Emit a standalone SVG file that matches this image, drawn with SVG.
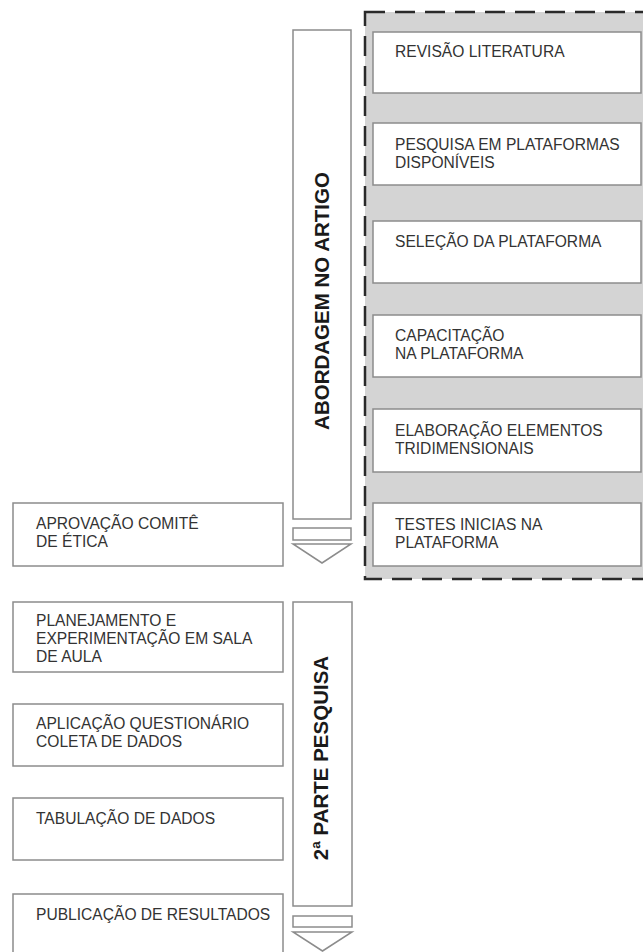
<svg xmlns="http://www.w3.org/2000/svg" width="643" height="952" viewBox="0 0 643 952">
<style>
.box{fill:#fff;stroke:#8c8c8c;stroke-width:1.5}
.t{font-family:"Liberation Sans",Arial,sans-serif;font-size:15.6px;fill:#333}
.v{font-family:"Liberation Sans",Arial,sans-serif;font-size:20.5px;font-weight:bold;fill:#1a1a1a}
.arr{fill:#fff;stroke:#8c8c8c;stroke-width:1.5}
</style>
<rect width="643" height="952" fill="#fff"/>
<g id="group-artigo">
<rect x="365" y="12" width="280" height="567" fill="#d4d4d4" stroke="#2a2a2a" stroke-width="2.5" stroke-dasharray="20 10"/>
</g>
<g id="connectors">
<g id="arrow-abordagem">
<rect class="arr" x="293" y="30" width="58" height="489"/>
<rect class="arr" x="293" y="528" width="58" height="12"/>
<polygon class="arr" points="293,544 351,544 322,563"/>
<text class="v" transform="translate(329,301) rotate(-90)" text-anchor="middle">ABORDAGEM NO ARTIGO</text>
</g>
<g id="arrow-2parte">
<rect class="arr" x="293" y="602" width="59" height="304"/>
<rect class="arr" x="293" y="916" width="59" height="11"/>
<polygon class="arr" points="293,932 352,932 322.5,951"/>
<text class="v" transform="translate(328,758) rotate(-90)" text-anchor="middle">2ª PARTE PESQUISA</text>
</g>
</g>
<g id="n-revisao"><rect class="box" x="373" y="32" width="268" height="61"/><text class="t" x="395" y="57">REVISÃO LITERATURA</text></g>
<g id="n-pesquisa"><rect class="box" x="373" y="123" width="268" height="62"/><text class="t" x="395" y="150">PESQUISA EM PLATAFORMAS</text><text class="t" x="395" y="167.5">DISPONÍVEIS</text></g>
<g id="n-selecao"><rect class="box" x="373" y="221" width="268" height="62"/><text class="t" x="395" y="247">SELEÇÃO DA PLATAFORMA</text></g>
<g id="n-capacitacao"><rect class="box" x="373" y="315" width="268" height="62"/><text class="t" x="395" y="341">CAPACITAÇÃO</text><text class="t" x="395" y="358.5">NA PLATAFORMA</text></g>
<g id="n-elaboracao"><rect class="box" x="373" y="409" width="268" height="63"/><text class="t" x="395" y="436">ELABORAÇÃO ELEMENTOS</text><text class="t" x="395" y="453.5">TRIDIMENSIONAIS</text></g>
<g id="n-testes"><rect class="box" x="373" y="503" width="268" height="63"/><text class="t" x="395" y="530">TESTES INICIAS NA</text><text class="t" x="395" y="547.5">PLATAFORMA</text></g>
<g id="n-aprovacao"><rect class="box" x="13" y="503" width="270" height="63"/><text class="t" x="36" y="529">APROVAÇÃO COMITÊ</text><text class="t" x="36" y="547">DE ÉTICA</text></g>
<g id="n-planejamento"><rect class="box" x="13" y="602" width="270" height="70"/><text class="t" x="36" y="626">PLANEJAMENTO E</text><text class="t" x="36" y="644">EXPERIMENTAÇÃO EM SALA</text><text class="t" x="36" y="662">DE AULA</text></g>
<g id="n-aplicacao"><rect class="box" x="13" y="704" width="270" height="62"/><text class="t" x="36" y="729">APLICAÇÃO QUESTIONÁRIO</text><text class="t" x="36" y="747">COLETA DE DADOS</text></g>
<g id="n-tabulacao"><rect class="box" x="13" y="798" width="270" height="62"/><text class="t" x="36" y="824">TABULAÇÃO DE DADOS</text></g>
<g id="n-publicacao"><rect class="box" x="13" y="894" width="270" height="64"/><text class="t" x="36" y="920">PUBLICAÇÃO DE RESULTADOS</text></g>
</svg>
